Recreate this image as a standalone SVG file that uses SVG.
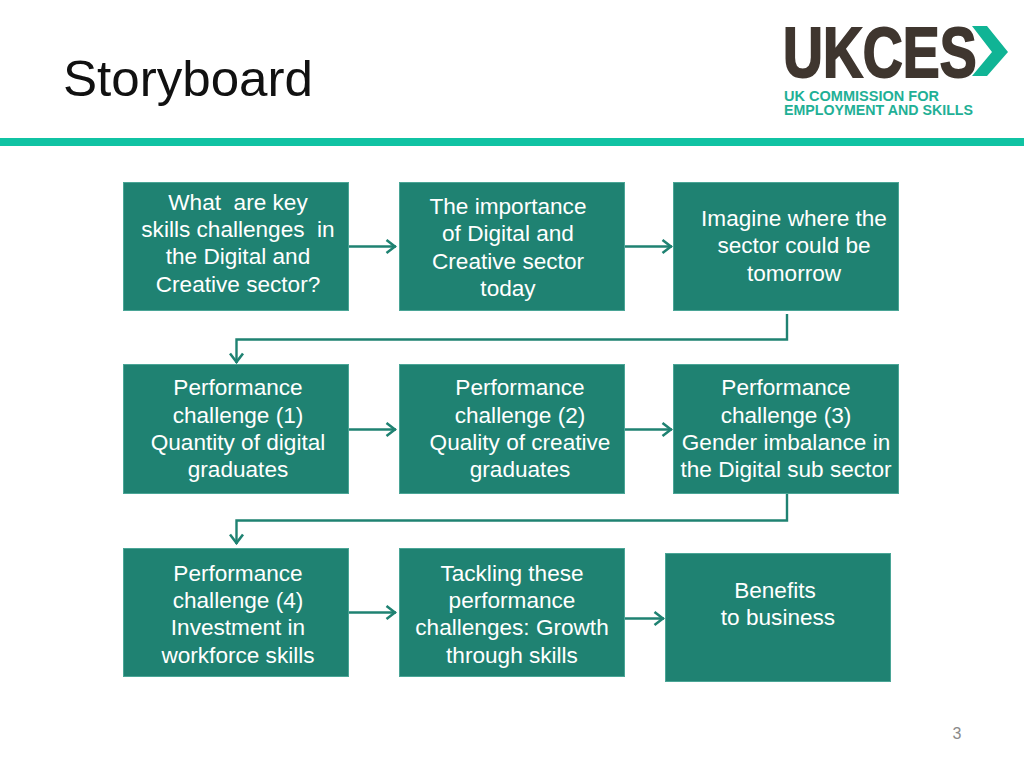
<svg xmlns="http://www.w3.org/2000/svg" width="1024" height="768" viewBox="0 0 1024 768">
<defs>
<marker id="arr" viewBox="0 0 12 16" refX="11" refY="8" markerWidth="12" markerHeight="16" markerUnits="userSpaceOnUse" orient="auto"><path d="M1.500 1.500 L10 8 L1.500 14.500" fill="none" stroke="#1f8272" stroke-width="2.600"/></marker>
</defs>
<style>
text{font-family:"Liberation Sans",Arial,sans-serif}
.box{fill:#1f8272;stroke:#4aa596;stroke-width:1}
.t{fill:#fff;font-size:22.600px;text-anchor:middle;white-space:pre}
.c{fill:none;stroke:#1f8272;stroke-width:2.400;marker-end:url(#arr)}
.sub{font-size:14.500px;font-weight:bold;fill:#1fb096}
</style>
<rect width="1024" height="768" fill="#fff"/>
<text id="title" x="63" y="96" font-size="50" fill="#111" textLength="250" lengthAdjust="spacingAndGlyphs">Storyboard</text>
<rect id="rule" x="0" y="138" width="1024" height="8" fill="#10c3a3"/>
<g id="logo">
<text transform="translate(783,77) scale(0.79,1)" font-size="70" font-weight="bold" fill="#3f362f" stroke="#3f362f" stroke-width="2">UKCES</text>
<polygon points="972,26 987,26 1008,52 987,76 972,76 992,52" fill="#10b495"/>
<text class="sub" x="784" y="101" textLength="155" lengthAdjust="spacingAndGlyphs">UK COMMISSION FOR</text>
<text class="sub" x="784" y="115" textLength="189" lengthAdjust="spacingAndGlyphs">EMPLOYMENT AND SKILLS</text>
</g>
<g id="connectors">
<path class="c" d="M349 246.500H396"/>
<path class="c" d="M625 246.500H672"/>
<path class="c" d="M787 314V339.500H236.500V363"/>
<path class="c" d="M349 429.500H396"/>
<path class="c" d="M625 429.500H672"/>
<path class="c" d="M787 494V520.500H236.500V544"/>
<path class="c" d="M349 612.500H396"/>
<path class="c" d="M625 618.500H664"/>
</g>
<g id="n1"><rect class="box" x="123.500" y="182.500" width="225" height="128"/><text class="t" x="238" y="210">What  are key</text><text class="t" x="238" y="237">skills challenges  in</text><text class="t" x="238" y="264">the Digital and</text><text class="t" x="238" y="292">Creative sector?</text></g>
<g id="n2"><rect class="box" x="399.500" y="182.500" width="225" height="128"/><text class="t" x="508" y="214">The importance</text><text class="t" x="508" y="241">of Digital and</text><text class="t" x="508" y="269">Creative sector</text><text class="t" x="508" y="296">today</text></g>
<g id="n3"><rect class="box" x="673.500" y="182.500" width="225" height="128"/><text class="t" x="794" y="226">Imagine where the</text><text class="t" x="794" y="253">sector could be</text><text class="t" x="794" y="281">tomorrow</text></g>
<g id="n4"><rect class="box" x="123.500" y="364.500" width="225" height="129"/><text class="t" x="238" y="395">Performance</text><text class="t" x="238" y="423">challenge (1)</text><text class="t" x="238" y="450">Quantity of digital</text><text class="t" x="238" y="477">graduates</text></g>
<g id="n5"><rect class="box" x="399.500" y="364.500" width="225" height="129"/><text class="t" x="520" y="395">Performance</text><text class="t" x="520" y="423">challenge (2)</text><text class="t" x="520" y="450">Quality of creative</text><text class="t" x="520" y="477">graduates</text></g>
<g id="n6"><rect class="box" x="673.500" y="364.500" width="225" height="129"/><text class="t" x="786" y="395">Performance</text><text class="t" x="786" y="423">challenge (3)</text><text class="t" x="786" y="450">Gender imbalance in</text><text class="t" x="786" y="477">the Digital sub sector</text></g>
<g id="n7"><rect class="box" x="123.500" y="548.500" width="225" height="128"/><text class="t" x="238" y="581">Performance</text><text class="t" x="238" y="608">challenge (4)</text><text class="t" x="238" y="635">Investment in</text><text class="t" x="238" y="663">workforce skills</text></g>
<g id="n8"><rect class="box" x="399.500" y="548.500" width="225" height="128"/><text class="t" x="512" y="581">Tackling these</text><text class="t" x="512" y="608">performance</text><text class="t" x="512" y="635">challenges: Growth</text><text class="t" x="512" y="663">through skills</text></g>
<g id="n9"><rect class="box" x="665.500" y="553.500" width="225" height="128"/><text class="t" x="775" y="598">Benefits</text><text class="t" x="778" y="625">to business</text></g>
<text id="page" x="957" y="739" font-size="16" fill="#8a8a8a" text-anchor="middle">3</text>
</svg>
